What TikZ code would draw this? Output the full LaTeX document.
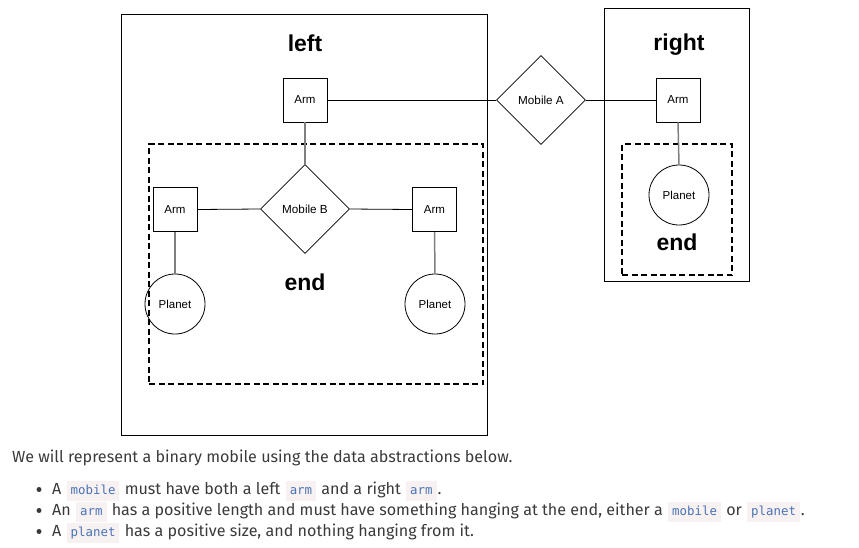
\documentclass[tikz,border=0pt]{standalone}
\usepackage{fontspec}
\setmainfont{Liberation Sans}
\newfontfamily\bodyfont{Fira Sans}
\newfontfamily\codefont{DejaVu Sans Mono}
\usetikzlibrary{shapes.geometric}
\definecolor{bodytext}{HTML}{3A3A3A}
\definecolor{codeblue}{HTML}{4A73B5}
\definecolor{chipbg}{HTML}{F7F1F2}
\definecolor{linkgray}{HTML}{7F7F7F}
\newcommand\chip[1]{\hspace{1pt}{\setlength{\fboxsep}{4pt}\colorbox{chipbg}{\codefont\fontsize{12.4}{14}\selectfont\color{codeblue}\vphantom{Ag}#1}}\hspace{1pt}}
\tikzset{
  frame/.style={draw=black, line width=0.8pt, inner sep=0pt},
  dashbox/.style={draw=black, line width=1.8pt, dash pattern=on 6pt off 3.5pt, inner sep=0pt},
  armbox/.style={draw=black, line width=0.8pt, minimum size=44pt, inner sep=0pt, font=\fontsize{11.5}{13}\selectfont},
  mobile/.style={diamond, draw=black, line width=0.8pt, minimum width=89pt, minimum height=89pt, inner sep=0pt, font=\fontsize{11.7}{13}\selectfont},
  planet/.style={circle, draw=black, line width=0.8pt, minimum size=60pt, inner sep=0pt, font=\fontsize{11.5}{13}\selectfont},
  title/.style={anchor=base, inner sep=0pt, font=\fontsize{23}{26}\selectfont\bfseries},
  hlink/.style={draw=black, line width=0.8pt},
  vlink/.style={draw=linkgray, line width=1.5pt},
  bodyline/.style={anchor=base west, inner sep=0pt, text=bodytext, font=\bodyfont\fontsize{16.1}{18}\selectfont},
  bulletdot/.style={circle, fill=bodytext, minimum size=5pt, inner sep=0pt}
}
\begin{document}
\begin{tikzpicture}[x=1pt,y=-1pt]
\useasboundingbox (0,0) rectangle (859,547);
% frames
\node[frame, minimum width=366pt, minimum height=421pt] (leftframe) at (304,224.5) {};
\node[frame, minimum width=145pt, minimum height=273pt] (rightframe) at (676.5,144.5) {};
\node[dashbox, minimum width=334pt, minimum height=240pt] (leftend) at (316,264) {};
\node[dashbox, minimum width=110pt, minimum height=131pt] (rightend) at (677,209.5) {};
% titles
\node[title] (lefttitle) at (305,51) {left};
\node[title] (righttitle) at (679,50.5) {right};
\node[title] (leftendtitle) at (305,290.5) {end};
\node[title] (rightendtitle) at (677,250.5) {end};
% nodes
\node[mobile] (mobA) at (541,100) {Mobile A};
\node[armbox] (armL) at (305,100) {Arm};
\node[armbox] (armR) at (678,100) {Arm};
\node[planet] (planetR) at (679,195) {Planet};
\node[mobile] (mobB) at (305,209) {Mobile B};
\node[armbox] (armBL) at (175,209.5) {Arm};
\node[armbox] (armBR) at (434.5,209.5) {Arm};
\node[planet] (planetBL) at (175,304) {Planet};
\node[planet] (planetBR) at (435,304) {Planet};
% connectors
\draw[hlink] (armL.east) -- (mobA.west);
\draw[hlink] (mobA.east) -- (armR.west);
\draw[hlink] (armBL.east) -- (mobB.west);
\draw[hlink] (mobB.east) -- (armBR.west);
\draw[vlink] (armL.south) -- (mobB.north);
\draw[vlink] (armR.south) -- (planetR.north);
\draw[vlink] (armBL.south) -- (planetBL.north);
\draw[vlink] (armBR.south) -- (planetBR.north);
% text
\node[bodyline] (intro) at (12,462) {We will represent a binary mobile using the data abstractions below.};
\node[bulletdot] (b1) at (39,489.5) {};
\node[bulletdot] (b2) at (39,510.5) {};
\node[bulletdot] (b3) at (39,531.5) {};
\node[bodyline] (l1) at (52,494) {A \chip{mobile} must have both a left \chip{arm} and a right \chip{arm}.};
\node[bodyline] (l2) at (52,515) {An \chip{arm} has a positive length and must have something hanging at the end, either a \chip{mobile} or \chip{planet}.};
\node[bodyline] (l3) at (52,536) {A \chip{planet} has a positive size, and nothing hanging from it.};
\end{tikzpicture}
\end{document}
